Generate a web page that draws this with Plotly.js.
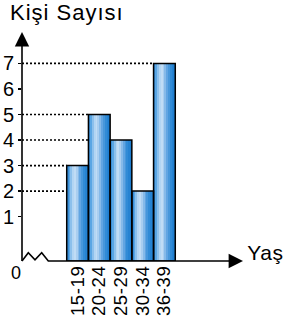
<!DOCTYPE html>
<html>
<head>
<meta charset="utf-8">
<script src="https://cdn.plot.ly/plotly-3.0.1.min.js"></script>
<style>
body{margin:0;padding:0;background:#fff;}
#chart .gtitle{letter-spacing:1px;}
#chart .xtick text{letter-spacing:0.6px;}
#chart .annotation-text.yas{letter-spacing:0.5px;}
</style>
</head>
<body>
<div id="chart" style="width:287px;height:322px;"></div>
<script>
// Data
var categories = ["15-19", "20-24", "25-29", "30-34", "36-39"];
var counts = [3, 5, 4, 2, 7];
var yTicks = [1, 2, 3, 4, 5, 6, 7];
var yTickLabels = ["1", "2", "3", "4", "5", "6", "7"];
var yTitle = "Kişi Sayısı";
var xTitle = "Yaş";
var zeroLabel = "0";

// Style
var FONT = "Liberation Sans, Arial, sans-serif";
var xRange = [-2.56, 7.62];
var yRange = [-0.736, 8.23];
var stripeColors = ["#3a8fd8", "#5aa6e4", "#8cc0ec", "#b2d5f3", "#c0dcf5", "#a9cef0",
                    "#86bae9", "#62a5e2", "#4797db", "#318bd6", "#2683d2", "#1f7ecf"];

var idx = categories.map(function (c, i) { return i; });
var baseArr = counts.map(function () { return yRange[0]; });
var heights = counts.map(function (v) { return v - yRange[0]; });

var traces = [];
var N = stripeColors.length;
stripeColors.forEach(function (col, k) {
  traces.push({
    type: "bar", x: idx, y: heights, base: baseArr,
    width: 1 / N + 0.012, offset: -0.5 + k / N,
    marker: { color: col, line: { width: 0 } },
    hoverinfo: "skip", showlegend: false
  });
});
traces.push({
  type: "bar", x: idx, y: heights, base: baseArr,
  width: 1, offset: -0.5,
  marker: { color: "rgba(0,0,0,0)", line: { color: "#000", width: 1.5 } },
  hoverinfo: "skip", showlegend: false
});

var shapes = [];
// dotted guide lines from axis to each bar's left edge
counts.forEach(function (v, i) {
  shapes.push({
    type: "line", layer: "below", xref: "x", yref: "y",
    x0: xRange[0], x1: i - 0.5, y0: v, y1: v,
    line: { color: "#000", width: 1.6, dash: "2px,2px" }
  });
});
// y axis line
shapes.push({ type: "line", xref: "paper", yref: "paper", x0: 0, x1: 0, y0: 0, y1: 0.96,
  line: { color: "#000", width: 1.6 } });
// zigzag axis break + x axis line
function px2x(p) { return (p - 22) / 221; }
function px2y(p) { return (261 - p) / 229; }
var zz = [[22, 261], [28.3, 252.8], [35, 259.8], [41.7, 252.8], [48.3, 261], [234, 261]];
var path = zz.map(function (p, i) { return (i ? "L" : "M") + px2x(p[0]).toFixed(4) + "," + px2y(p[1]).toFixed(4); }).join(" ");
shapes.push({ type: "path", xref: "paper", yref: "paper", path: path,
  line: { color: "#000", width: 1.6 } });

var annotations = [
  // y arrow head
  { xref: "paper", yref: "paper", x: 0, y: 1, ax: 0, ay: 14, text: "", showarrow: true,
    arrowhead: 2, arrowsize: 1.8, arrowwidth: 1.6, arrowcolor: "#000", standoff: 0 },
  // x arrow head
  { xref: "paper", yref: "paper", x: 1, y: 0, ax: -14, ay: 0, text: "", showarrow: true,
    arrowhead: 2, arrowsize: 1.8, arrowwidth: 1.6, arrowcolor: "#000", standoff: 0 },
  { xref: "paper", yref: "paper", x: px2x(246), y: px2y(252), xanchor: "left", yanchor: "middle",
    text: xTitle, showarrow: false, font: { family: FONT, size: 21, color: "#000" } },
  { xref: "paper", yref: "paper", x: px2x(15.5), y: px2y(272.5), xanchor: "center", yanchor: "middle",
    text: zeroLabel, showarrow: false, font: { family: FONT, size: 18, color: "#000" } }
];

var layout = {
  width: 287, height: 322,
  margin: { l: 22, r: 44, t: 32, b: 61, pad: 0 },
  paper_bgcolor: "#fff", plot_bgcolor: "#fff",
  barmode: "overlay", bargap: 0,
  showlegend: false,
  title: { text: yTitle, xref: "container", yref: "container", x: 10 / 287, xanchor: "left",
           y: 1 - 5 / 322, yanchor: "top", pad: { t: 0, b: 0, l: 0, r: 0 },
           font: { family: FONT, size: 22, color: "#000" } },
  xaxis: { range: xRange, tickvals: idx, ticktext: categories, tickangle: -90,
           showgrid: false, zeroline: false, showline: false, ticks: "",
           tickfont: { family: FONT, size: 18.5, color: "#000" }, fixedrange: true },
  yaxis: { range: yRange, tickvals: yTicks, ticktext: yTickLabels,
           showgrid: false, zeroline: false, showline: false,
           ticks: "outside", ticklen: 3, tickwidth: 1.6, tickcolor: "#000",
           tickfont: { family: FONT, size: 20, color: "#000" }, fixedrange: true },
  shapes: shapes, annotations: annotations
};

Plotly.newPlot("chart", traces, layout, { staticPlot: true, displayModeBar: false }).then(function () {
  var a = document.querySelectorAll("#chart .annotation-text");
  a.forEach(function (t) { if (t.textContent === xTitle) t.classList.add("yas"); });
});
</script>
</body>
</html>
